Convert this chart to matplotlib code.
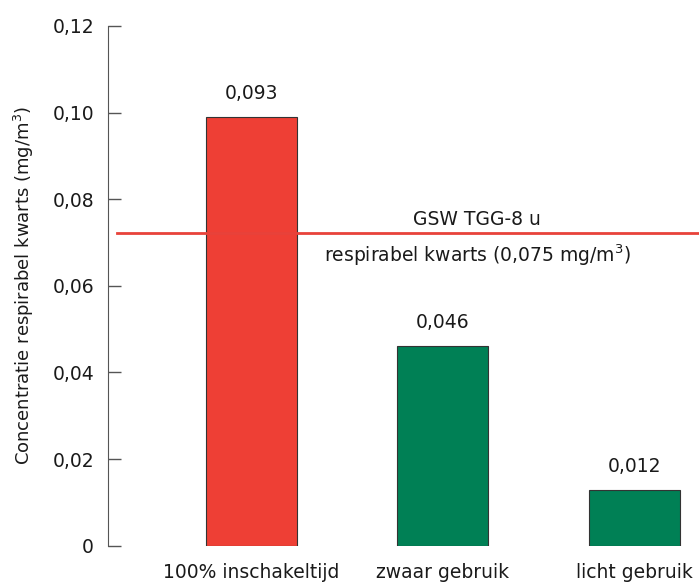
import matplotlib
matplotlib.use("Agg")
from matplotlib import pyplot as plt, ticker

# data
categories = ["100% inschakeltijd", "zwaar gebruik", "licht gebruik"]
bar_heights = [0.0989, 0.046, 0.0129]
value_labels = ["0,093", "0,046", "0,012"]
bar_colors = ["#EE3F35", "#008055", "#008055"]
limit_value = 0.0721
limit_text_top = "GSW TGG-8 u"
limit_text_bottom = "respirabel kwarts (0,075 mg/m$^3$)"
y_ticks = [0, 0.02, 0.04, 0.06, 0.08, 0.10, 0.12]

plt.rcParams['font.family'] = ['DejaVu Sans']
plt.rcParams['mathtext.default'] = 'regular'

fig = plt.figure(figsize=(6.99, 5.83), dpi=100)
ax = fig.add_axes([0.1545, 0.064, 0.8455, 0.8915])

x = list(range(len(categories)))
ax.bar(x, bar_heights, width=0.475, color=bar_colors, edgecolor='#333333', linewidth=0.8, zorder=2)
for xi, h, lab in zip(x, bar_heights, value_labels):
    ax.text(xi, h + 0.0033, lab, ha='center', va='bottom', fontsize=13.5, color='#1a1a1a')

ax.axhline(limit_value, xmin=0.015, xmax=1, color='#E8423A', linewidth=2, zorder=3)
ax.text(1.178, limit_value + 0.0010, limit_text_top, ha='center', va='bottom', fontsize=13.5, color='#1a1a1a')
ax.text(1.178, limit_value - 0.0020, limit_text_bottom, ha='center', va='top', fontsize=13.5, color='#1a1a1a')

ax.set_xlim(-0.749, 2.337)
ax.set_ylim(0, 0.12)
ax.set_yticks(y_ticks)
ax.yaxis.set_major_formatter(ticker.FuncFormatter(
    lambda v, p: "0" if v == 0 else ("%.2f" % v).replace('.', ',')))
ax.set_xticks(x)
ax.set_xticklabels(categories)

for s in ['top', 'right', 'bottom']:
    ax.spines[s].set_visible(False)
ax.spines['left'].set_color('#555555')
ax.tick_params(axis='y', direction='in', length=9, width=1, color='#555555',
               labelsize=13.5, labelcolor='#1a1a1a', pad=10)
ax.tick_params(axis='x', length=0, labelsize=13.5, labelcolor='#1a1a1a', pad=12.5)

ax.set_ylabel("Concentratie respirabel kwarts (mg/m$^3$)", fontsize=13, color='#1a1a1a', labelpad=12)

fig.savefig("out.png", dpi=100)
